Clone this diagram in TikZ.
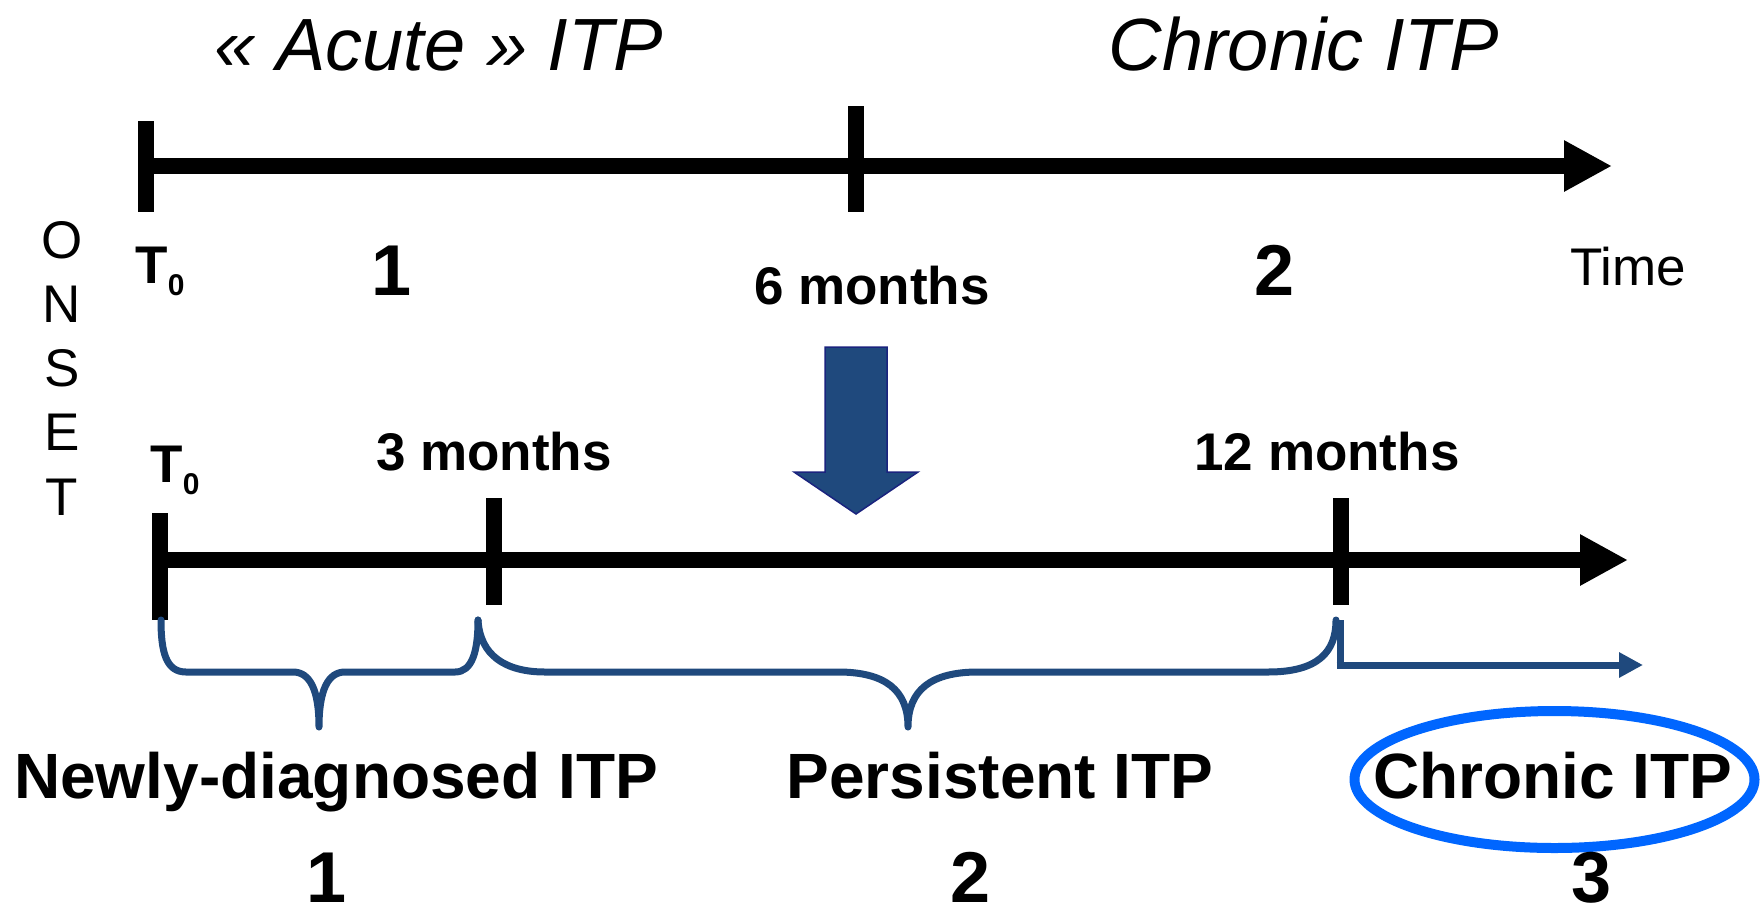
\documentclass[tikz,border=0pt]{standalone}
\usepackage{fontspec}
\setmainfont{Liberation Sans}
\usepackage{xcolor}
\definecolor{cNavy}{HTML}{1F497D}
\definecolor{cEdge}{HTML}{1A237E}
\definecolor{cRing}{HTML}{0066FF}
\usepackage{tikz}
\usetikzlibrary{arrows.meta,calc}
\newcommand{\fsz}[1]{\fontsize{#1}{#1}\selectfont}
\newcommand{\tsub}[1]{\raisebox{-6pt}{\fsz{15}#1}}
\tikzset{
  axis-line/.style={line width=8pt,-{Triangle[length=24pt,width=24pt]}},
  axis-tick/.style={line width=8pt},
  brace-path/.style={draw=cNavy,line width=3.5pt,line cap=round,line join=round},
  brace-arrow/.style={draw=cNavy,line width=3.5pt,-{Triangle[length=12pt,width=12pt]}},
  txt/.style={inner sep=0pt,anchor=base},
  txt-head/.style={txt,font=\fsz{37}\itshape},
  txt-num/.style={txt,font=\fsz{36}\bfseries},
  txt-mark/.style={txt,font=\fsz{26.5}\bfseries},
  txt-phase/.style={txt,font=\fsz{32}\bfseries},
  txt-onset/.style={txt,font=\fsz{26.5}},
  big-arrow/.style={fill=cNavy,draw=cEdge,line width=0.75pt,line join=miter},
  ring/.style={draw=cRing,line width=5pt},
}

\begin{document}
\begin{tikzpicture}[x=0.5pt,y=-0.5pt]
  \useasboundingbox (0,0) rectangle (1760,916);

  % old definition: acute / chronic split at 6 months
  \coordinate (a0) at (146,166);
  \coordinate (a6) at (856,166);
  \coordinate (aend) at (1612,166);
  \draw[axis-line] (a0) -- (aend);
  \draw[axis-tick] ([yshift=22.5pt]a0) -- ([yshift=-23pt]a0);
  \draw[axis-tick] ([yshift=30pt]a6) -- ([yshift=-23pt]a6);

  \node[txt-head] (hAcute) at (439,70) {« Acute » ITP};
  \node[txt-head] (hChron) at (1304,70) {Chronic ITP};
  \node[txt-mark,anchor=base west] (aT0) at (135,283) {T\tsub{0}};
  \node[txt-num] (aN1) at (392,295) {1};
  \node[txt-mark] (a6m) at (872,304) {6 months};
  \node[txt-num] (aN2) at (1275,295) {2};
  \node[txt,font=\fsz{26.5}] (aTime) at (1628,285) {Time};

  \foreach \ch [count=\i] in {O,N,S,E,T}
    \node[txt-onset] (on\i) at (62,{258+64.3*(\i-1)}) {\ch};

  % revised definition: 3 and 12 months
  \coordinate (b0) at (160,560);
  \coordinate (b3) at (494,560);
  \coordinate (b12) at (1341,560);
  \coordinate (bend) at (1628,560);
  \draw[axis-line] (b0) -- (bend);
  \draw[axis-tick] ([yshift=23.5pt]b0) -- ([yshift=-30pt]b0);
  \draw[axis-tick] ([yshift=31pt]b3) -- ([yshift=-22.5pt]b3);
  \draw[axis-tick] ([yshift=31pt]b12) -- ([yshift=-22.5pt]b12);

  \node[txt-mark,anchor=base west] (bT0) at (150,482) {T\tsub{0}};
  \node[txt-mark] (b3m) at (494,470) {3 months};
  \node[txt-mark] (b12m) at (1327,470) {12 months};

  \draw[big-arrow] (825,347) -- (887,347) -- (887,472) -- (918,472)
    -- (856,514) -- (794,472) -- (825,472) -- cycle;

  % braces under the axis
  \draw[brace-path] (161,620) .. controls (161,652) and (166,672) .. (186,672)
    -- (293,672) .. controls (310,672) and (319,690) .. (319,727)
    .. controls (319,690) and (328,672) .. (345,672)
    -- (455,672) .. controls (472,672) and (478,652) .. (478,620);
  \draw[brace-path] (478,620) .. controls (480,655) and (505,672) .. (545,672)
    -- (838,672) .. controls (885,672) and (908,690) .. (908,727)
    .. controls (908,690) and (931,672) .. (978,672)
    -- (1268,672) .. controls (1318,672) and (1336,652) .. (1336,620);
  \coordinate (cTop) at (1340,620);
  \coordinate (cCorner) at (1340,665);
  \coordinate (cEnd) at (1643,665);
  \draw[brace-path,line cap=butt] (cTop) -- (cCorner);
  \draw[brace-arrow] ([xshift=-1.75pt]cCorner) -- (cEnd);

  \node[txt-phase] (pNew) at (336,798) {Newly-diagnosed ITP};
  \node[txt-phase] (pPers) at (1000,798) {Persistent ITP};
  \node[txt-phase] (pChron) at (1553,798) {Chronic ITP};
  \draw[ring] (1554.5,779.5) ellipse [x radius=100pt,y radius=34.25pt];

  \node[txt-num] (pN1) at (327,902) {1};
  \node[txt-num] (pN2) at (971,902) {2};
  \node[txt-num] (pN3) at (1591,902) {3};
\end{tikzpicture}
\end{document}
